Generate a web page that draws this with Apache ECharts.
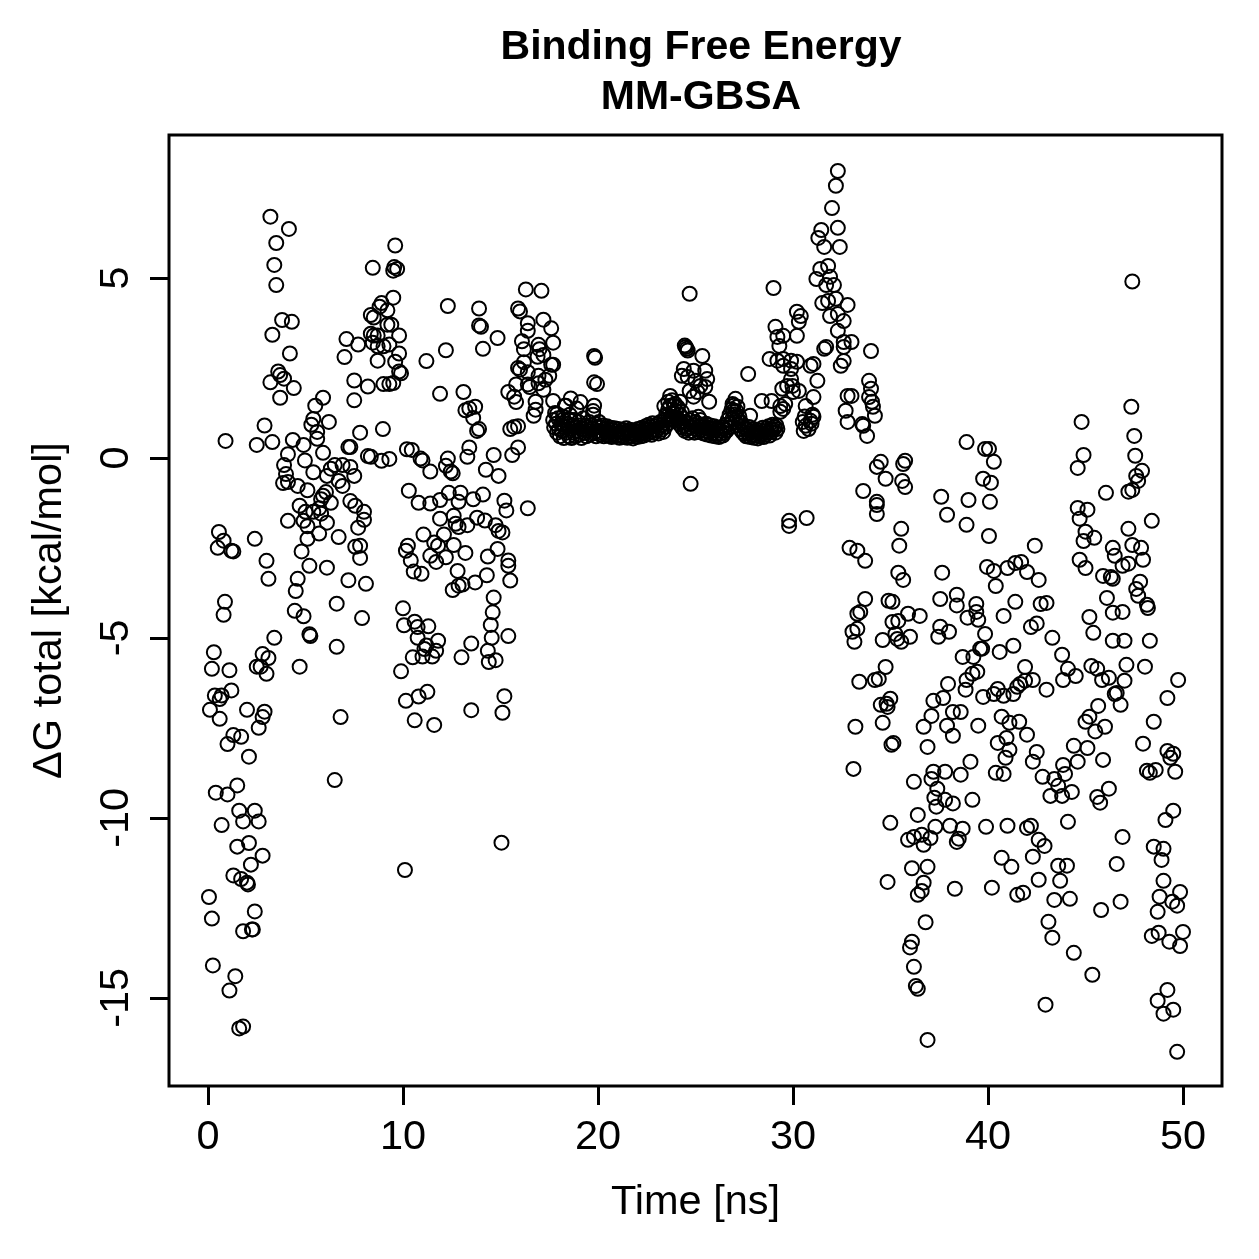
<!DOCTYPE html>
<html>
<head>
<meta charset="utf-8">
<script src="https://cdn.jsdelivr.net/npm/echarts@6/dist/echarts.min.js"></script>
<style>
  html, body { margin: 0; padding: 0; background: #fff; }
  #chart { width: 1259px; height: 1259px; }
</style>
</head>
<body>
<div id="chart"></div>
<script>
// ticks
const xTicks = [0, 10, 20, 30, 40, 50]
const yTicks = [-15, -10, -5, 0, 5]

// [time (ns), dG total (kcal/mol)]
const seg0to10 = [
  [0.05,-12.2],[0.1,-7.0],[0.2,-12.8],[0.2,-5.86],[0.25,-14.1],[0.3,-5.4],[0.35,-6.6],[0.4,-9.3],[0.5,-2.5],[0.56,-2.06],
  [0.6,-6.7],[0.6,-7.25],[0.7,-6.6],[0.7,-10.2],[0.8,-2.3],[0.8,-4.36],[0.87,-4.0],[0.9,0.47],[1.0,-7.95],[1.0,-9.35],
  [1.1,-5.9],[1.1,-14.8],[1.2,-2.58],[1.2,-6.46],[1.3,-2.6],[1.3,-7.7],[1.3,-11.6],[1.4,-14.4],[1.5,-9.1],[1.5,-10.8],
  [1.6,-9.8],[1.6,-15.85],[1.7,-7.75],[1.7,-11.7],[1.8,-10.1],[1.8,-13.15],[1.8,-15.8],[2.0,-7.0],[2.0,-11.8],[2.05,-11.85],
  [2.1,-8.3],[2.1,-10.7],[2.2,-11.3],[2.25,-13.1],[2.3,-13.1],[2.4,-2.25],[2.4,-9.8],[2.4,-12.6],[2.5,0.36],[2.5,-5.8],
  [2.6,-7.5],[2.6,-10.1],[2.7,-5.8],[2.8,-5.45],[2.8,-7.2],[2.8,-11.05],[2.9,0.9],[2.9,-7.05],[3.0,-2.86],[3.0,-6.0],
  [3.1,-3.36],[3.1,-5.56],[3.2,6.7],[3.2,2.1],[3.3,3.42],[3.3,0.44],[3.4,5.36],[3.4,-5.0],[3.5,5.97],[3.5,4.8],
  [3.6,2.4],[3.7,2.3],[3.7,1.67],[3.8,3.83],[3.85,-0.7],[3.9,2.2],[3.9,-0.2],[4.0,-0.45],[4.1,0.1],[4.1,-0.67],
  [4.1,-1.75],[4.15,6.36],[4.2,2.9],[4.3,3.78],[4.35,0.5],[4.4,1.94],[4.45,-4.25],[4.5,-3.7],[4.6,-0.78],[4.6,-3.36],
  [4.7,-1.33],[4.7,-5.8],[4.8,-2.6],[4.9,0.36],[4.9,-1.75],[4.9,-4.4],[4.97,-0.07],[5.0,-1.5],[5.1,-0.9],[5.1,-1.9],
  [5.1,-2.25],[5.2,-3.0],[5.2,-4.9],[5.25,-4.95],[5.3,0.92],[5.4,1.08],[5.4,-0.4],[5.4,-1.5],[5.5,1.45],[5.6,0.72],
  [5.6,0.53],[5.7,-1.4],[5.7,-2.1],[5.8,-1.15],[5.8,-1.55],[5.9,1.67],[5.9,0.14],[5.9,-1.05],[6.05,-0.95],[6.1,-0.5],
  [6.1,-1.8],[6.1,-3.05],[6.2,1.0],[6.3,-0.3],[6.3,-1.25],[6.5,-0.2],[6.5,-8.95],[6.6,-4.05],[6.6,-5.25],[6.7,-0.64],
  [6.7,-2.2],[6.8,-7.2],[6.9,-0.2],[6.9,-0.78],[7.0,2.8],[7.1,3.3],[7.2,0.3],[7.2,-3.4],[7.3,0.3],[7.3,-0.25],
  [7.3,-1.2],[7.5,2.15],[7.5,1.6],[7.5,-0.5],[7.55,-1.33],[7.55,-2.47],[7.7,3.15],[7.7,-1.94],[7.8,0.7],[7.8,-2.44],
  [7.8,-2.78],[7.9,-4.45],[8.0,-1.5],[8.0,-1.72],[8.1,-3.5],[8.2,1.98],[8.2,0.05],[8.35,3.97],[8.35,3.45],[8.35,0.03],
  [8.45,5.28],[8.45,3.2],[8.5,3.9],[8.5,3.4],[8.7,3.4],[8.7,3.1],[8.7,2.7],[8.8,4.2],[8.9,4.3],[8.9,-0.08],
  [8.97,0.8],[9.0,3.1],[9.0,2.05],[9.2,4.1],[9.2,3.7],[9.3,3.15],[9.3,2.05],[9.3,-0.03],[9.4,3.7],[9.5,5.2],
  [9.5,4.45],[9.5,2.08],[9.55,5.3],[9.6,5.9],[9.6,2.67],[9.7,5.25],[9.8,3.4],[9.8,2.9],[9.8,2.4],[9.9,2.35]
]

const seg10to20 = [
  [9.9,-5.93],[10.0,-4.18],[10.05,-4.65],[10.1,-11.45],[10.15,-6.75],[10.15,-2.58],[10.2,0.24],[10.25,-2.44],[10.3,-0.91],[10.4,-2.85],
  [10.45,0.22],[10.5,-5.54],[10.55,-3.16],[10.6,-4.55],[10.6,-7.29],[10.75,-4.7],[10.75,-5.0],[10.8,-1.25],[10.8,-6.63],[10.9,-0.02],
  [10.95,-3.22],[11.0,-0.07],[11.0,-5.52],[11.05,-2.13],[11.1,-5.31],[11.2,2.69],[11.2,-5.21],[11.25,-6.5],[11.3,-4.68],[11.4,-0.38],
  [11.4,-1.27],[11.4,-2.72],[11.5,-5.52],[11.6,-2.35],[11.6,-7.42],[11.7,-2.89],[11.7,-5.36],[11.8,-2.44],[11.8,-5.08],[11.9,1.78],
  [11.9,-1.17],[11.9,-1.69],[12.1,-2.13],[12.2,2.99],[12.2,-0.22],[12.2,-2.76],[12.3,4.22],[12.3,-0.02],[12.35,-0.97],[12.45,-0.38],
  [12.55,-0.43],[12.55,-3.67],[12.6,-1.61],[12.6,-2.42],[12.7,-1.83],[12.8,-3.14],[12.85,-1.22],[12.85,-1.92],[12.85,-3.55],[12.95,-0.97],
  [13.0,-5.54],[13.05,-3.52],[13.1,1.83],[13.2,1.32],[13.2,-2.64],[13.3,0.03],[13.3,-1.87],[13.4,1.37],[13.4,0.29],[13.5,-5.16],
  [13.5,-7.01],[13.6,1.11],[13.6,-1.15],[13.7,1.42],[13.7,-3.46],[13.8,0.75],[13.8,-1.66],[13.9,4.15],[13.9,3.68],[13.9,0.8],
  [14.0,3.64],[14.1,3.03],[14.1,-1.02],[14.2,-1.74],[14.25,-0.33],[14.3,-3.26],[14.35,-2.74],[14.35,-5.36],[14.4,-5.67],[14.5,-4.64],
  [14.55,-5.0],[14.6,-4.29],[14.65,0.08],[14.65,-3.88],[14.75,-1.87],[14.75,-5.62],[14.85,3.33],[14.85,-2.53],[14.9,-0.5],[14.9,-2.03],
  [15.05,-10.69],[15.1,-2.07],[15.1,-7.08],[15.2,-1.19],[15.2,-6.62],[15.3,-1.46],[15.4,1.83],[15.4,-2.85],[15.4,-3.0],[15.4,-4.95],
  [15.5,0.8],[15.5,-3.41],[15.6,0.08],[15.7,1.7],[15.7,0.86],[15.8,2.04],[15.8,1.55],[15.9,4.15],[15.9,2.5],[15.9,0.88],
  [15.9,0.29],[16.0,4.07],[16.0,2.45],[16.1,3.24],[16.2,3.02],[16.2,2.66],[16.3,4.68],[16.4,3.74],[16.4,3.53],[16.4,2.38],
  [16.4,2.04],[16.4,-1.4],[16.5,1.97],[16.7,1.17],[16.8,1.56],[16.8,1.34],[16.9,2.81],[16.95,3.14],[16.95,2.28],[16.95,2.07],
  [17.0,3.02],[17.1,4.64],[17.2,3.84],[17.2,2.86],[17.2,1.89],[17.3,2.17],[17.5,2.28],[17.6,3.6],[17.6,2.59],[17.7,3.2],
  [17.7,2.59],[17.7,1.58],[17.9,1.22],[18.2,1.06],[18.3,1.45],[18.6,1.65],[18.6,1.06],[18.9,1.37],[19.1,1.55],[19.75,1.3],
  [19.8,2.83],[19.85,2.78],[19.8,2.1],[19.95,2.05],[19.8,1.45]
]

// the flat stretch, one frame every 0.05 ns from 17.7 ns
const plateauStart = 17.7
const plateauStep = 0.05
const plateauDG = [
  1.05,0.85,1.25,0.95,0.70,1.10,0.80,0.60,0.95,0.75,1.15,0.55,0.85,1.45,0.70,0.95,0.60,1.20,0.80,0.55,
  0.90,0.70,1.05,0.60,0.85,0.75,1.00,0.65,0.90,0.55,0.80,1.10,0.70,0.90,0.60,0.85,0.75,1.00,0.65,0.90,
  0.80,1.20,0.70,0.95,0.60,0.85,
  0.75,1.00,0.65,0.85,0.70,0.90,0.60,0.80,0.72,0.88,0.62,0.78,0.68,0.84,0.58,0.76,0.66,0.82,0.60,0.74,
  0.64,0.80,0.56,0.72,0.62,0.78,0.58,0.70,0.66,0.82,0.56,0.74,0.62,0.78,0.60,0.70,0.54,0.76,0.64,0.72,
  0.58,0.80,0.66,0.74,0.60,0.84,0.70,0.62,0.78,0.88,0.66,0.80,0.92,0.72,0.86,0.64,0.96,0.78,0.70,0.88,
  0.76,0.94,0.68,0.84,1.00,0.78,0.92,0.72,1.05,0.86,1.20,0.95,1.35,1.05,1.45,1.15,1.60,1.25,1.05,1.50,
  1.30,1.10,1.40,0.95,1.20,1.00,0.85,1.10,0.90,0.75,1.00,0.80,0.95,0.70,1.05,0.85,0.75,1.10,0.90,0.70,
  1.00,0.80,0.95,0.72,0.88,1.05,0.78,0.92,0.68,0.86,0.75,0.95,0.65,0.82,0.72,0.90,0.62,0.80,0.70,0.88,
  0.60,0.78,0.66,0.84,0.58,0.76,0.68,0.86,0.62,0.80,0.70,0.92,0.76,1.05,0.85,1.20,0.95,1.35,1.10,1.45,
  1.20,1.00,1.30,1.10,0.90,1.15,0.80,0.98,0.72,0.88,0.66,0.82,0.60,0.78,0.68,0.86,0.58,0.74,0.64,0.80,
  0.56,0.72,0.62,0.78,0.54,0.70,0.60,0.76,0.66,0.84,0.58,0.74,0.64,0.82,0.70,0.88,0.62,0.80,0.72,0.92,
  0.78,0.86,0.70,0.90,0.80
]

const seg20to30 = [
  [23.4,1.44],[23.6,1.56],[23.6,1.17],[23.7,1.72],[23.8,1.08],[23.9,1.44],[24.1,1.08],[24.2,1.56],[24.3,1.28],[24.3,2.28],
  [24.4,2.47],[24.4,0.89],[24.45,3.12],[24.5,3.08],[24.55,3.03],[24.6,2.98],[24.6,2.25],[24.7,4.56],[24.7,1.86],[24.75,-0.72],
  [24.9,2.42],[24.9,1.7],[25.0,2.14],[25.1,1.83],[25.15,1.14],[25.25,2.0],[25.25,0.89],[25.35,2.83],[25.5,2.42],[25.5,1.97],
  [25.6,2.19],[25.7,1.56],[26.9,1.5],[26.95,1.31],[27.05,1.64],[27.15,1.42],[27.7,2.33],[27.8,1.17],[28.4,1.58],[28.8,2.75],
  [28.9,1.58],[29.0,4.72],[29.1,3.64],[29.2,3.36],[29.2,2.7],[29.3,3.11],[29.35,1.44],[29.35,1.28],[29.45,1.92],[29.5,3.39],
  [29.5,2.75],[29.5,2.56],[29.5,1.36],[29.6,1.5],[29.7,2.0],[29.8,-1.75],[29.8,-1.89],[29.9,2.7],[29.9,2.47],[29.9,2.19],
  [29.97,2.0]
]

const seg30to40 = [
  [30.0,1.83],[30.2,4.06],[30.2,3.39],[30.2,2.67],[30.3,3.78],[30.3,1.86],[30.4,3.94],[30.5,1.0],[30.55,0.75],[30.6,1.15],
  [30.65,1.44],[30.65,0.89],[30.7,-1.67],[30.8,0.8],[30.9,2.56],[30.9,1.03],[30.95,0.95],[31.0,1.2],[31.05,2.61],[31.05,1.69],
  [31.05,1.14],[31.2,4.97],[31.25,2.14],[31.3,6.11],[31.4,5.25],[31.45,6.33],[31.5,4.3],[31.6,5.86],[31.6,3.03],[31.7,4.8],
  [31.7,3.08],[31.8,5.33],[31.8,4.36],[31.9,5.03],[31.9,3.94],[32.0,6.94],[32.1,4.8],[32.2,7.56],[32.2,4.42],[32.3,7.97],
  [32.3,6.39],[32.3,4.0],[32.3,3.53],[32.4,5.86],[32.45,2.56],[32.6,3.8],[32.6,3.22],[32.6,3.08],[32.6,2.69],[32.7,1.31],
  [32.8,4.25],[32.8,1.72],[32.8,1.0],[32.9,-2.5],[33.0,3.22],[33.0,1.72],[33.05,-4.83],[33.1,-8.64],[33.15,-5.11],[33.2,-7.47],
  [33.3,-2.58],[33.3,-4.33],[33.3,-4.75],[33.4,-6.22],[33.45,-4.28],[33.55,0.94],[33.6,0.89],[33.6,-0.92],[33.7,-2.86],[33.7,-3.92],
  [33.8,0.61],[33.9,2.14],[33.9,1.69],[34.0,2.97],[34.0,1.92],[34.05,1.56],[34.1,1.42],[34.2,1.17],[34.2,-6.17],[34.3,-0.25],
  [34.3,-1.22],[34.3,-1.31],[34.3,-1.56],[34.4,-6.14],[34.5,-0.11],[34.5,-6.86],[34.6,-5.06],[34.6,-7.36],[34.75,-0.58],[34.75,-5.81],
  [34.8,-6.83],[34.85,-6.92],[34.85,-11.78],[34.9,-3.97],[34.99,-6.69],[34.99,-10.14],[35.05,-7.97],[35.1,-4.0],[35.1,-4.56],[35.15,-7.92],
  [35.25,-4.89],[35.35,-5.03],[35.4,-3.19],[35.4,-4.53],[35.45,-2.44],[35.55,-1.97],[35.55,-5.11],[35.6,-0.64],[35.65,-0.17],[35.65,-3.39],
  [35.75,-0.08],[35.75,-0.81],[35.9,-4.33],[35.9,-10.61],[36.0,-4.97],[36.0,-13.6],[36.1,-11.4],[36.1,-13.44],[36.2,-9.0],[36.2,-10.53],
  [36.2,-14.14],[36.3,-14.67],[36.4,-9.92],[36.4,-12.14],[36.4,-14.75],[36.5,-4.39],[36.6,-10.47],[36.6,-12.03],[36.7,-7.47],[36.7,-10.75],
  [36.7,-11.8],[36.8,-12.9],[36.9,-8.03],[36.9,-11.36],[36.9,-16.17],[37.05,-10.56],[37.1,-7.17],[37.1,-8.92],[37.2,-6.75],[37.2,-8.72],
  [37.25,-9.44],[37.3,-10.25],[37.35,-9.69],[37.4,-9.19],[37.45,-4.97],[37.55,-3.92],[37.55,-4.69],[37.6,-1.08],[37.65,-3.19],[37.7,-6.67],
  [37.8,-8.72],[37.8,-9.5],[37.9,-1.58],[37.9,-7.44],[37.95,-6.28],[38.0,-4.83],[38.05,-10.22],[38.2,-7.72],[38.2,-7.06],[38.2,-9.6],
  [38.3,-11.97],[38.4,-3.8],[38.4,-4.1],[38.4,-10.67],[38.5,-10.58],[38.6,-7.06],[38.6,-8.8],[38.7,-5.53],[38.7,-10.3],[38.85,-6.44],
  [38.9,0.44],[38.9,-1.86],[38.9,-6.17],[38.95,-4.44],[39.0,-1.17],[39.1,-8.44],[39.2,-6.0],[39.2,-9.5],[39.25,-5.53],[39.4,-4.06],
  [39.4,-4.28],[39.45,-5.94],[39.5,-4.5],[39.5,-7.44],[39.6,-5.3]
]

const seg40to50 = [
  [39.75,-0.58],[39.75,-6.64],[39.7,-5.3],[39.85,0.25],[39.85,-4.89],[39.9,-10.25],[39.95,-3.03],[40.05,0.25],[40.05,-2.17],[40.1,-1.22],
  [40.15,-0.69],[40.2,-11.94],[40.3,-0.11],[40.3,-3.14],[40.3,-6.56],[40.4,-3.56],[40.4,-8.75],[40.5,-6.42],[40.5,-7.92],[40.6,-5.39],
  [40.7,-7.19],[40.7,-11.11],[40.8,-4.39],[40.8,-6.61],[40.8,-8.78],[40.9,-8.33],[40.95,-7.78],[41.0,-3.06],[41.0,-10.22],[41.1,-7.36],
  [41.1,-8.11],[41.2,-11.36],[41.3,-5.22],[41.3,-6.56],[41.4,-2.92],[41.4,-4.0],[41.5,-6.36],[41.5,-12.14],[41.6,-7.33],[41.65,-6.28],
  [41.7,-2.89],[41.8,-12.08],[41.9,-5.81],[41.9,-6.19],[42.0,-3.17],[42.0,-7.69],[42.0,-10.28],[42.2,-4.7],[42.2,-10.22],[42.3,-6.17],
  [42.3,-8.44],[42.3,-11.08],[42.4,-2.44],[42.5,-4.6],[42.5,-8.17],[42.6,-3.39],[42.6,-10.61],[42.6,-11.72],[42.7,-4.06],[42.8,-8.86],
  [42.9,-10.78],[42.95,-15.19],[43.0,-4.03],[43.0,-6.44],[43.1,-12.89],[43.2,-9.39],[43.3,-5.0],[43.3,-13.33],[43.4,-8.92],[43.4,-12.28],
  [43.6,-9.11],[43.6,-11.33],[43.7,-11.75],[43.8,-5.47],[43.8,-9.39],[43.85,-6.17],[43.85,-8.53],[43.95,-8.78],[44.05,-11.33],[44.1,-5.86],
  [44.1,-10.11],[44.2,-12.25],[44.3,-9.28],[44.4,-8.0],[44.4,-13.75],[44.5,-6.06],[44.6,-0.28],[44.6,-1.39],[44.6,-8.44],[44.7,-1.69],
  [44.7,-2.83],[44.8,1.0],[44.9,0.08],[44.9,-2.31],[45.0,-2.05],[45.0,-3.06],[45.0,-7.33],[45.1,-1.44],[45.1,-8.06],[45.2,-4.42],
  [45.2,-7.19],[45.3,-5.78],[45.35,-14.36],[45.4,-4.86],[45.45,-2.22],[45.5,-7.6],[45.6,-5.86],[45.6,-9.42],[45.65,-6.89],[45.75,-9.58],
  [45.8,-12.56],[45.85,-6.17],[45.9,-3.28],[45.9,-8.39],[46.0,-7.47],[46.05,-0.97],[46.1,-3.89],[46.2,-6.11],[46.2,-9.19],[46.3,-3.31],
  [46.4,-2.5],[46.4,-3.36],[46.4,-4.3],[46.4,-5.08],[46.5,-2.72],[46.5,-6.56],[46.6,-6.53],[46.6,-11.28],[46.8,-6.86],[46.8,-12.33],
  [46.9,-3.0],[46.9,-4.28],[46.9,-10.53],[47.0,-5.08],[47.0,-6.19],[47.1,-5.75],[47.2,-0.94],[47.2,-1.97],[47.2,-2.94],[47.35,1.42],
  [47.4,4.9],[47.4,-0.89],[47.4,-2.42],[47.5,0.61],[47.55,0.06],[47.6,-0.5],[47.6,-3.64],[47.7,-0.64],[47.7,-3.83],[47.8,-3.44],
  [47.85,-2.5],[47.9,-0.36],[47.95,-2.83],[47.95,-7.94],[48.05,-5.8],[48.15,-4.08],[48.15,-8.69],[48.2,-4.17],[48.3,-5.08],[48.3,-8.75],
  [48.4,-1.75],[48.4,-13.28],[48.5,-7.33],[48.5,-10.8],[48.6,-8.67],[48.7,-12.61],[48.7,-15.08],[48.75,-13.19],[48.8,-12.19],[48.9,-11.17],
  [49.0,-10.86],[49.0,-11.75],[49.0,-15.44],[49.1,-10.06],[49.2,-6.67],[49.2,-8.14],[49.2,-14.78],[49.3,-13.44],[49.35,-8.33],[49.45,-12.33],
  [49.5,-8.22],[49.5,-9.8],[49.5,-15.33],[49.6,-8.72],[49.7,-12.44],[49.7,-16.5],[49.75,-6.17],[49.85,-12.06],[49.85,-13.56],[50.0,-13.17]
]

const plateau = plateauDG.map((v, i) => [+(plateauStart + i * plateauStep).toFixed(2), v])
const points = [].concat(seg0to10, seg10to20, plateau, seg20to30, seg30to40, seg40to50)

const chart = echarts.init(document.getElementById('chart'))
const font = '"Liberation Sans", Arial, Helvetica, sans-serif'
const axisFontSize = 41.5

const option = {
  animation: false,
  backgroundColor: '#ffffff',
  textStyle: { fontFamily: font, color: '#000' },
  title: {
    text: 'Binding Free Energy\nMM-GBSA',
    left: 696,
    top: 18,
    textAlign: 'center',
    textStyle: { fontFamily: font, fontSize: 41, fontWeight: 'bold', lineHeight: 50, color: '#000' },
  },
  grid: {
    left: 169,
    top: 135,
    width: 1053,
    height: 951,
    show: true,
    borderColor: '#000',
    borderWidth: 3,
    outerBoundsMode: 'none',
  },
  xAxis: {
    type: 'value',
    min: -2,
    max: 52,
    splitLine: { show: false },
    axisLine: { show: false, onZero: false },
    axisTick: { show: true, length: 19, lineStyle: { color: '#000', width: 3 }, customValues: xTicks },
    axisLabel: { customValues: xTicks, fontSize: axisFontSize, color: '#000', margin: 31, fontFamily: font },
    name: 'Time [ns]',
    nameLocation: 'middle',
    nameGap: 96,
    nameTextStyle: { fontSize: axisFontSize, color: '#000', fontFamily: font },
  },
  yAxis: {
    type: 'value',
    min: -17.45,
    max: 8.97,
    splitLine: { show: false },
    axisLine: { show: false, onZero: false },
    axisTick: { show: true, length: 19, lineStyle: { color: '#000', width: 3 }, customValues: yTicks },
    axisLabel: { customValues: yTicks, fontSize: axisFontSize, color: '#000', margin: 31, rotate: 90, fontFamily: font },
    name: 'ΔG total [kcal/mol]',
    nameLocation: 'middle',
    nameGap: 98,
    nameTextStyle: { fontSize: axisFontSize, color: '#000', fontFamily: font },
  },
  series: [
    {
      type: 'scatter',
      data: points,
      symbol: 'circle',
      symbolSize: 14,
      silent: true,
      itemStyle: { color: 'rgba(0,0,0,0)', borderColor: '#000', borderWidth: 2, opacity: 1 },
    },
  ],
}

chart.setOption(option)
</script>
</body>
</html>
